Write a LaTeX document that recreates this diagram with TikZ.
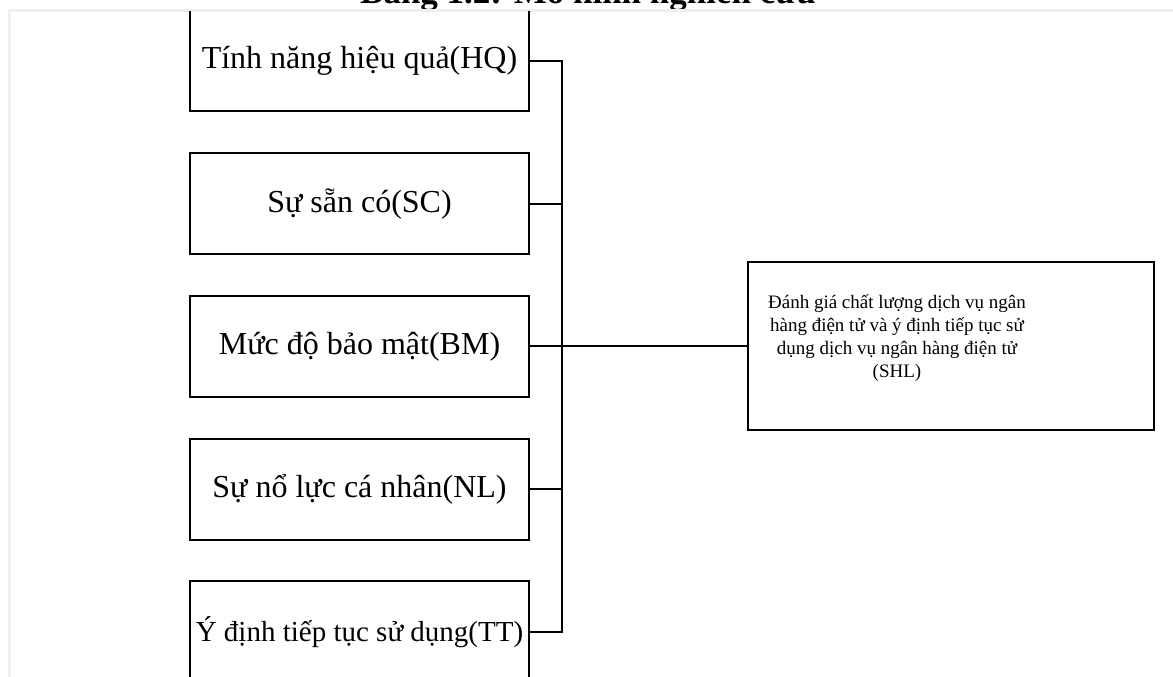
\documentclass[tikz,border=0pt]{standalone}
\usepackage{fontspec}
\setmainfont{Liberation Serif}
\usepackage{tikz}
\usetikzlibrary{positioning}
\definecolor{edgec}{HTML}{EFEFEF}

\begin{document}
\begin{tikzpicture}[x=1pt,y=1pt,
  factor/.style={draw,line width=2pt,minimum width=339pt,minimum height=101pt,
    inner sep=0pt,font=\fontsize{32}{38}\selectfont},
  conn/.style={line width=2pt}]
  \useasboundingbox[fill=white] (0,0) rectangle (1173,677);
  % caption, cut at the top of the page
  \node[anchor=base,inner sep=0pt,font=\fontsize{35}{42}\selectfont\bfseries]
        (title) at (588,673) {Bảng 1.2: Mô hình nghiên cứu};
  % light page edge
  \draw[edgec,line width=2.5pt] (8,666.5) -- (1173,666.5) (9.5,666.5) -- (9.5,0);
  \begin{scope}
    \clip (11,0) rectangle (1173,665.3);
    % factors on the left
    \node[factor] (hq) at (359.5,616)    {Tính năng hiệu quả(HQ)};
    \node[factor] (sc) at (359.5,473.25) {Sự sẵn có(SC)};
    \node[factor] (bm) at (359.5,330.5)  {Mức độ bảo mật(BM)};
    \node[factor] (nl) at (359.5,187.75) {Sự nổ lực cá nhân(NL)};
    \node[factor,font=\fontsize{29}{35}\selectfont] (tt) at (359.5,45) {Ý định tiếp tục sử dụng(TT)};
    % dependent variable
    \node[draw,line width=2pt,minimum width=406pt,minimum height=168pt] (shl) at (951,330.5) {};
    \node[align=center,inner sep=0pt,font=\fontsize{19}{23}\selectfont]
          (shltext) at ([xshift=-54pt,yshift=8pt]shl.center)
          {Đánh giá chất lượng dịch vụ ngân\\hàng điện tử và ý định tiếp tục sử\\dụng dịch vụ ngân hàng điện tử\\(SHL)};
    % bus line
    \coordinate (bus) at (562,0);
    \draw[conn] (hq.east) -- (hq.east -| bus) -- (tt.east -| bus) -- (tt.east);
    \draw[conn] (sc.east) -- (sc.east -| bus);
    \draw[conn] (nl.east) -- (nl.east -| bus);
    \draw[conn] (bm.east) -- (shl.west);
  \end{scope}
\end{tikzpicture}
\end{document}
